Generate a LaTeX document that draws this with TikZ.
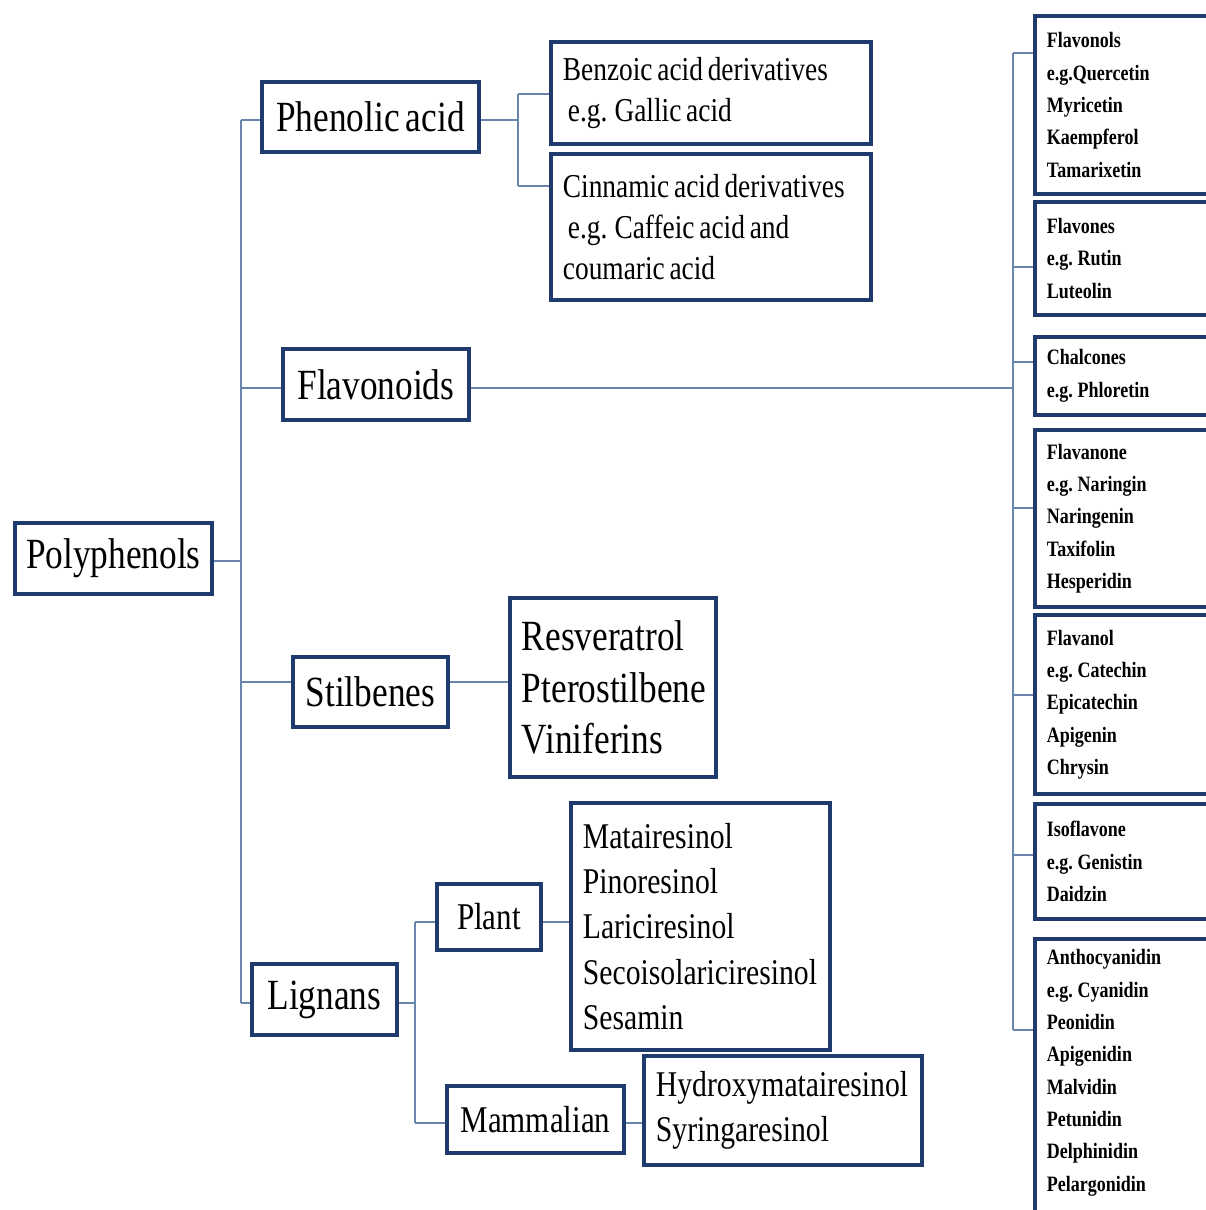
\documentclass[tikz,border=0pt]{standalone}
\usepackage{fontspec}
\setmainfont{Liberation Serif}[FakeStretch=0.82, WordSpace=0.7]
\usepackage{xcolor}
\usepackage{tikz}
\usetikzlibrary{calc,positioning}
\definecolor{frame}{HTML}{1F3B6E}
\definecolor{wire}{HTML}{6A85AD}
\tikzset{
  mainbox/.style={draw=frame, line width=2.2pt, fill=white, anchor=north west, inner sep=0pt},
  listbox/.style={draw=frame, line width=2.2pt, fill=white, anchor=north west, inner xsep=0.24cm, inner ysep=0pt, align=flush left},
  link/.style={draw=wire, line width=0.9pt},
  bigtext/.style={font=\fontsize{24.5}{29.5}\selectfont},
  midtext/.style={font=\fontsize{20.6}{25.8}\selectfont},
  smalltext/.style={font=\fontsize{19}{23.5}\selectfont},
  listtext/.style={font=\bfseries\fontsize{12.5}{18.4}\selectfont, text width=3.46cm},
}

\begin{document}
\begin{tikzpicture}[x=0.02cm, y=-0.02cm]
  \useasboundingbox (0,0) rectangle (1205,1210);

  % first level
  \node[mainbox, bigtext, minimum width=3.94cm, minimum height=1.42cm] (poly) at (13,521) {Polyphenols};
  \node[mainbox, bigtext, minimum width=4.34cm, minimum height=1.40cm] (phen) at (260,80) {Phenolic acid};
  \node[mainbox, bigtext, minimum width=3.72cm, minimum height=1.42cm] (flav) at (281,347) {Flavonoids};
  \node[mainbox, bigtext, minimum width=3.10cm, minimum height=1.40cm] (stil) at (291,655) {Stilbenes};
  \node[mainbox, bigtext, minimum width=2.90cm, minimum height=1.42cm] (lign) at (250,962) {Lignans};

  % phenolic acids
  \node[listbox, smalltext, text width=5.92cm, minimum height=2.04cm] (benz) at (549,40)
    {Benzoic acid derivatives\\\hspace*{0.15em}e.g. Gallic acid};
  \node[listbox, smalltext, text width=5.92cm, minimum height=2.92cm] (cinn) at (549,152)
    {Cinnamic acid derivatives\\\hspace*{0.15em}e.g. Caffeic acid and\\coumaric acid};

  % stilbenes and lignans
  \node[listbox, bigtext, text width=3.64cm, minimum height=3.58cm] (resv) at (508,596)
    {Resveratrol\\Pterostilbene\\Viniferins};
  \node[mainbox, font=\fontsize{21.5}{26}\selectfont, minimum width=2.08cm, minimum height=1.32cm] (plant) at (435,882) {Plant};
  \node[mainbox, font=\fontsize{21.5}{26}\selectfont, minimum width=3.54cm, minimum height=1.34cm] (mamm) at (445,1084) {Mammalian};
  \node[listbox, midtext, text width=4.70cm, minimum height=4.94cm] (mata) at (569,801)
    {Matairesinol\\Pinoresinol\\Lariciresinol\\Secoisolariciresinol\\Sesamin};
  \node[listbox, midtext, text width=5.08cm, minimum height=2.18cm] (hydr) at (642,1054)
    {Hydroxymatairesinol\\Syringaresinol};

  % flavonoid classes
  \node[listbox, listtext, minimum height=3.56cm] (fl1) at (1033,14)
    {Flavonols\\e.g.Quercetin\\Myricetin\\Kaempferol\\Tamarixetin};
  \node[listbox, listtext, minimum height=2.26cm] (fl2) at (1033,200)
    {Flavones\\e.g. Rutin\\Luteolin};
  \node[listbox, listtext, minimum height=1.56cm] (fl3) at (1033,335)
    {Chalcones\\e.g. Phloretin};
  \node[listbox, listtext, minimum height=3.54cm] (fl4) at (1033,428)
    {Flavanone\\e.g. Naringin\\Naringenin\\Taxifolin\\Hesperidin};
  \node[listbox, listtext, minimum height=3.58cm] (fl5) at (1033,613)
    {Flavanol\\e.g. Catechin\\Epicatechin\\Apigenin\\Chrysin};
  \node[listbox, listtext, minimum height=2.30cm] (fl6) at (1033,802)
    {Isoflavone\\e.g. Genistin\\Daidzin};
  \node[listbox, listtext, minimum height=5.80cm] (fl7) at (1033,937)
    {Anthocyanidin\\e.g. Cyanidin\\Peonidin\\Apigenidin\\Malvidin\\Petunidin\\Delphinidin\\Pelargonidin\\[-3pt]\mbox{}};

  % forks and taps
  \coordinate (trunk) at (241,561);
  \coordinate (phenfork) at (518,120);
  \coordinate (flavfork) at (1013,388);
  \coordinate (lignfork) at (415,1003);
  \coordinate (phentap) at ($(phen.north west)+(0,40)$);
  \coordinate (flavtap) at ($(flav.north west)+(0,41)$);
  \coordinate (stiltap) at ($(stil.north west)+(0,27)$);
  \coordinate (ligntap) at ($(lign.north west)+(0,41)$);
  \coordinate (benztap) at ($(benz.north west)+(0,54)$);
  \coordinate (cinntap) at ($(cinn.north west)+(0,34)$);
  \coordinate (planttap) at ($(plant.north west)+(0,40)$);
  \coordinate (mammtap) at ($(mamm.north west)+(0,39)$);
  \coordinate (fl1tap) at ($(fl1.north west)+(0,39)$);
  \coordinate (fl2tap) at ($(fl2.north west)+(0,67)$);
  \coordinate (fl3tap) at ($(fl3.north west)+(0,27)$);
  \coordinate (fl4tap) at ($(fl4.north west)+(0,80)$);
  \coordinate (fl5tap) at ($(fl5.north west)+(0,82)$);
  \coordinate (fl6tap) at ($(fl6.north west)+(0,53)$);
  \coordinate (fl7tap) at ($(fl7.north west)+(0,93)$);

  % main tree
  \draw[link] (poly.east |- trunk) -- (trunk);
  \draw[link] (trunk |- phentap) -- (trunk |- ligntap);
  \foreach \t in {phentap,flavtap,stiltap,ligntap}
    \draw[link] (trunk |- \t) -- (\t);

  % phenolic acid
  \draw[link] (phen.east |- phenfork) -- (phenfork);
  \draw[link] (phenfork |- benztap) -- (phenfork |- cinntap);
  \draw[link] (phenfork |- benztap) -- (benztap);
  \draw[link] (phenfork |- cinntap) -- (cinntap);

  % flavonoids
  \draw[link] (flav.east |- flavfork) -- (flavfork);
  \draw[link] (flavfork |- fl1tap) -- (flavfork |- fl7tap);
  \foreach \t in {fl1tap,fl2tap,fl3tap,fl4tap,fl5tap,fl6tap,fl7tap}
    \draw[link] (flavfork |- \t) -- (\t);

  % stilbenes
  \draw[link] (stil.east |- stiltap) -- (resv.west |- stiltap);

  % lignans
  \draw[link] (lign.east |- lignfork) -- (lignfork);
  \draw[link] (lignfork |- planttap) -- (lignfork |- mammtap);
  \draw[link] (lignfork |- planttap) -- (planttap);
  \draw[link] (lignfork |- mammtap) -- (mammtap);
  \draw[link] (plant.east |- planttap) -- (mata.west |- planttap);
  \draw[link] (mamm.east |- mammtap) -- (hydr.west |- mammtap);
\end{tikzpicture}
\end{document}
